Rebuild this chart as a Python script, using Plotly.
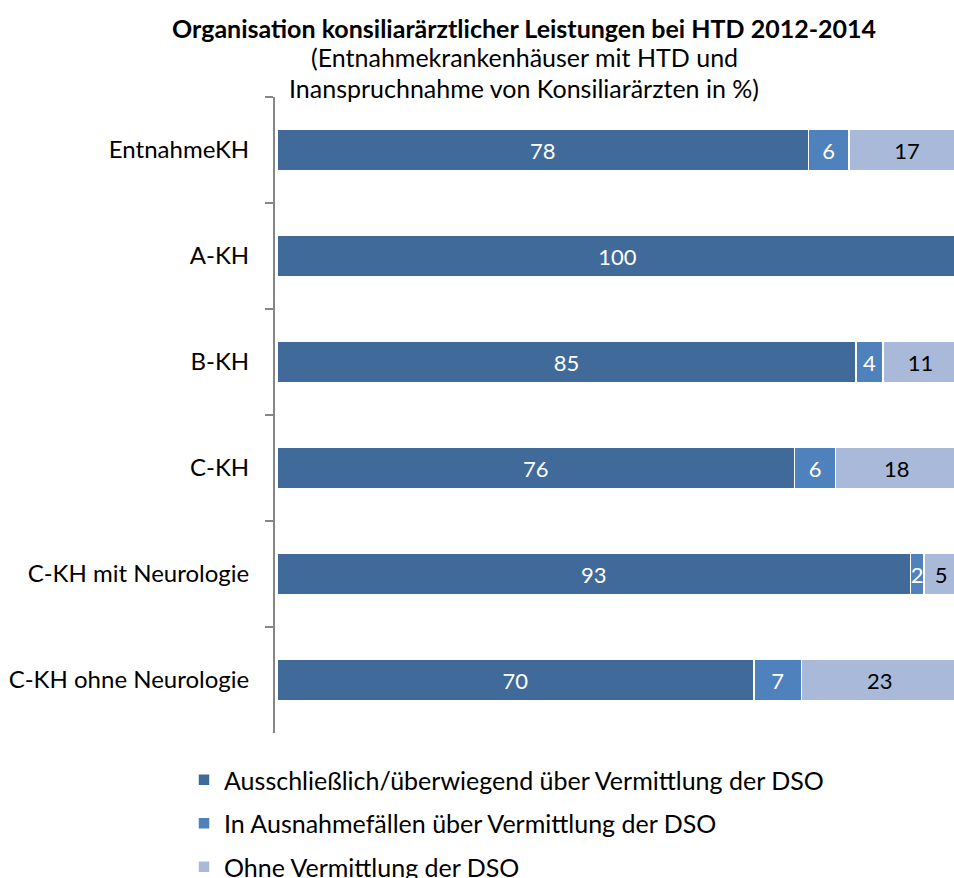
import plotly.graph_objects as go

categories = ["EntnahmeKH", "A-KH", "B-KH", "C-KH", "C-KH mit Neurologie", "C-KH ohne Neurologie"]
series_names = [
    "Ausschließlich/überwiegend über Vermittlung der DSO",
    "In Ausnahmefällen über Vermittlung der DSO",
    "Ohne Vermittlung der DSO",
]
ausschl = [78, 100, 85, 76, 93, 70]
ausnahme = [6, None, 4, 6, 2, 7]
ohne = [17, None, 11, 18, 5, 23]

colors = ["#3F6A9A", "#4F81BD", "#A9B9D9"]
text_colors = ["white", "white", "black"]
FONT = "Lato"

fig = go.Figure()
for i, (name, vals) in enumerate(zip(series_names, [ausschl, ausnahme, ohne])):
    fig.add_trace(go.Bar(
        y=categories, x=vals, name=name, orientation="h",
        marker=dict(color=colors[i], line=dict(color="white", width=1.5)),
        text=[("" if v is None else str(v)) for v in vals],
        textposition="inside", insidetextanchor="middle",
        textfont=dict(family=FONT, size=22, color=text_colors[i]),
        legendgroup=str(i), hoverinfo="skip",
    ))

fig.update_layout(
    barmode="stack", bargap=0.61,
    width=954, height=878,
    margin=dict(l=275, r=0, t=97, b=145, autoexpand=False),
    paper_bgcolor="white", plot_bgcolor="white",
    font=dict(family=FONT, size=24, color="black"),
    uniformtext=dict(minsize=22, mode="show"),
    showlegend=True,
    legend=dict(
        x=(184 - 275) / 679, y=(733 - 757) / 636,
        xanchor="left", yanchor="top", orientation="v",
        font=dict(family=FONT, size=25, color="black"),
        tracegroupgap=8, itemwidth=30, traceorder="grouped",
    ),
)
title_lines = [
    ("<b>Organisation konsiliarärztlicher Leistungen bei HTD 2012-2014</b>", 28),
    ("(Entnahmekrankenhäuser mit HTD und", 57),
    ("Inanspruchnahme von Konsiliarärzten in %)", 88),
]
for txt, ypx in title_lines:
    fig.add_annotation(
        text=txt, xref="paper", yref="paper",
        x=(524 - 275) / 679, y=1 + (97 - ypx) / 636,
        showarrow=False, xanchor="center", yanchor="middle",
        font=dict(family=FONT, size=25, color="black"),
    )

fig.update_xaxes(range=[-0.3, 99.4], visible=False, fixedrange=True)
fig.update_yaxes(
    autorange="reversed", showline=True, linecolor="#868686", linewidth=2,
    ticks="outside", ticklen=8, tickcolor="#868686", tickwidth=2,
    tickson="boundaries", automargin=False, ticklabelstandoff=19,
    tickfont=dict(family=FONT, size=24, color="black"),
    showgrid=False, zeroline=False, fixedrange=True,
)

fig.write_html("out.html", config={"displayModeBar": False},
               post_script="document.body.style.margin='0px';")
